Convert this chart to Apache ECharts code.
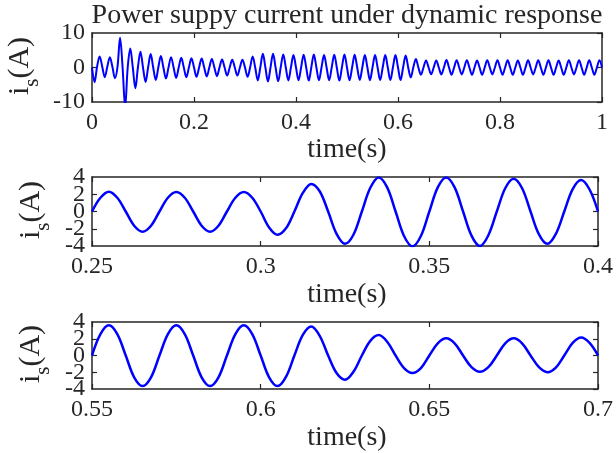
<!DOCTYPE html>
<html>
<head>
<meta charset="utf-8">
<script src="https://cdn.jsdelivr.net/npm/echarts@6/dist/echarts.min.js"></script>
<style>
  html, body { margin: 0; padding: 0; background: #ffffff; }
  #chart { width: 616px; height: 453px; }
</style>
</head>
<body>
<div id="chart"></div>
<script>
// Supply current i_s (A) over the whole 1 s run, one sample every 5 ms
const fullStart = 0;
const fullStep = 0.005;
const fullCurrent = [
  0, -4.3, 0.3, 3.2, 0.3, -2.8, 0.2, 3.0, 0.2, -3.1,
  0.2, 8.6, 0, -11.5, 0, 5.5, 0, -6.0, 0, 4.6,
  0, -4.2, 0, 3.9, 0, -3.6, 0, 3.3, 0, -3.2,
  0, 3.0, 0, -3.0, 0, 2.8, 0, -2.8, 0, 2.7,
  0, -2.7, 0, 2.6, 0, -2.6, 0, 2.5, 0, -2.5,
  0, 2.3, 0, -2.35, 0, 2.25, 0, -2.35, 0, 2.25,
  0, -2.7, 0, 3.2, 0, -3.75, 0, 3.95, 0, -4.05,
  0, 3.95, 0, -4.0, 0, 3.8, 0, -3.75, 0, 3.65,
  0, -3.7, 0, 3.7, 0, -3.8, 0, 3.8, 0, -3.7,
  0, 3.6, 0, -3.7, 0, 3.7, 0, -3.8, 0, 3.8,
  0, -3.7, 0, 3.7, 0, -3.6, 0, 3.6, 0, -3.7,
  0, 3.6, 0, -3.65, 0, 3.6, 0, -3.65, 0, 3.6,
  0, -3.65, 0, 3.45, 0, -2.9, 0, 2.45, 0, -2.1,
  0, 2.05, 0, -1.95, 0, 2.05, 0, -2.0, 0, 2.15,
  0, -2.1, 0, 2.1, 0, -2.0, 0, 2.1, 0, -2.1,
  0, 2.0, 0, -2.1, 0, 2.1, 0, -2.0, 0, 2.1,
  0, -2.1, 0, 2.1, 0, -2.1, 0, 2.0, 0, -2.1,
  0, 2.1, 0, -2.0, 0, 2.1, 0, -2.1, 0, 2.1,
  0, -2.1, 0, 2.0, 0, -2.1, 0, 2.1, 0, -2.0,
  0, 2.1, 0, -2.1, 0, 2.1, 0, -2.1, 0, 2.1,
  0
];

// Close-up 0.25 s .. 0.40 s, one sample every 2.5 ms
const midStart = 0.25;
const midStep = 0.0025;
const midCurrent = [
  0, 1.6, 2.3, 1.6,   0, -1.65, -2.35, -1.65,
  0, 1.6, 2.25, 1.6,  0, -1.65, -2.35, -1.65,
  0, 1.6, 2.25, 1.6,  0, -1.85, -2.7, -1.95,
  0, 2.15, 3.2, 2.35, 0, -2.6, -3.75, -2.7,
  0, 2.75, 3.95, 2.8, 0, -2.85, -4.05, -2.85,
  0, 2.8, 3.95, 2.8,  0, -2.8, -4.0, -2.75,
  0, 2.7, 3.8, 2.7,   0, -2.65, -3.75, -2.6,
  0, 2.6, 3.65, 2.55,
  0
];

// Close-up 0.55 s .. 0.70 s, one sample every 2.5 ms
const lowStart = 0.55;
const lowStep = 0.0025;
const lowCurrent = [
  0, 2.55, 3.6, 2.55,  0, -2.6, -3.65, -2.6,
  0, 2.55, 3.6, 2.55,  0, -2.6, -3.65, -2.6,
  0, 2.55, 3.6, 2.55,  0, -2.6, -3.65, -2.55,
  0, 2.45, 3.45, 2.35, 0, -2.1, -2.9, -1.95,
  0, 1.75, 2.45, 1.65, 0, -1.5, -2.1, -1.5,
  0, 1.45, 2.05, 1.45, 0, -1.4, -1.95, -1.4,
  0, 1.45, 2.05, 1.45, 0, -1.4, -2.0, -1.45,
  0, 1.5, 2.15, 1.5,
  0
];

// Axis ranges and tick spacing for the three panels: [min, max, interval]
const fullX = [0, 1, 0.2];
const fullY = [-10, 10, 10];
const midX = [0.25, 0.4, 0.05];
const midY = [-4, 4, 2];
const lowX = [0.55, 0.7, 0.05];
const lowY = [-4, 4, 2];

const titleText = 'Power suppy current under dynamic response';
const xName = 'time(s)';

const SERIF = '"Liberation Serif", "Times New Roman", serif';
const AXIS_COLOR = '#262626';
const TEXT_COLOR = '#262626';
const LINE_COLOR = '#0000ff';

function toPairs(start, step, values) {
  return values.map((v, i) => [+(start + i * step).toFixed(5), v]);
}

const grids = [
  { left: 92, top: 33, width: 510, height: 69 },
  { left: 92, top: 177, width: 511, height: 69 },
  { left: 92, top: 322, width: 511, height: 67 }
];

const xAxes = [];
const yAxes = [];

function addAxes(gridIndex, xr, yr) {
  const line = { show: true, onZero: false, lineStyle: { color: AXIS_COLOR, width: 1.5 } };
  const tick = { show: true, inside: true, length: 5, lineStyle: { color: AXIS_COLOR, width: 1.2 } };
  const font = { color: TEXT_COLOR, fontFamily: SERIF, fontSize: 24, hideOverlap: false };
  const xBase = { type: 'value', gridIndex, min: xr[0], max: xr[1], interval: xr[2],
    axisLine: line, axisTick: tick, splitLine: { show: false } };
  const yBase = { type: 'value', gridIndex, min: yr[0], max: yr[1], interval: yr[2],
    axisLine: line, axisTick: tick, splitLine: { show: false } };
  xAxes.push(Object.assign({}, xBase, { position: 'bottom',
    axisLabel: Object.assign({ margin: 9, showMinLabel: true, showMaxLabel: true }, font) }));
  xAxes.push(Object.assign({}, xBase, { position: 'top', axisLabel: { show: false } }));
  // left axis carrying the series: inner tick values
  yAxes.push(Object.assign({}, yBase, { position: 'left',
    axisLabel: Object.assign({ margin: 7, showMinLabel: false, showMaxLabel: false }, font) }));
  yAxes.push(Object.assign({}, yBase, { position: 'right', axisLabel: { show: false } }));
  // companion left axis for the end values, so closely stacked labels all stay visible
  yAxes.push({ type: 'value', gridIndex, position: 'left', min: yr[0], max: yr[1], interval: yr[1] - yr[0],
    axisLine: { show: false }, axisTick: { show: false }, splitLine: { show: false },
    axisLabel: Object.assign({ margin: 7, showMinLabel: true, showMaxLabel: true }, font) });
}

addAxes(0, fullX, fullY);
addAxes(1, midX, midY);
addAxes(2, lowX, lowY);

function lineSeries(gridIndex, data, width) {
  return {
    type: 'line',
    xAxisIndex: gridIndex * 2,
    yAxisIndex: gridIndex * 3,
    data,
    smooth: 0.35,
    showSymbol: false,
    symbol: 'none',
    clip: true,
    animation: false,
    lineStyle: { color: LINE_COLOR, width }
  };
}

// Rotated "i_s(A)" label with a subscript s
function yLabel(cx, cy, size) {
  const sub = Math.round(size * 0.7);
  const wI = size * 0.278;
  const wS = sub * 0.389;
  const wA = size * 1.388;
  const start = -(wI + wS + wA) / 2;
  const base = { fill: TEXT_COLOR, fontFamily: SERIF, align: 'left', verticalAlign: 'middle' };
  return {
    type: 'group', x: cx, y: cy, rotation: Math.PI / 2,
    children: [
      { type: 'text', x: start, y: 0, style: Object.assign({ text: 'i', fontSize: size }, base) },
      { type: 'text', x: start + wI, y: size * 0.42, style: Object.assign({ text: 's', fontSize: sub }, base) },
      { type: 'text', x: start + wI + wS, y: 0, style: Object.assign({ text: '(A)', fontSize: size }, base) }
    ]
  };
}

function centeredText(text, x, y, size) {
  return { type: 'text', x, y, style: { text, fill: TEXT_COLOR, fontFamily: SERIF, fontSize: size, align: 'center', verticalAlign: 'middle' } };
}

const chart = echarts.init(document.getElementById('chart'), null, { renderer: 'canvas' });
chart.setOption({
  backgroundColor: '#ffffff',
  animation: false,
  grid: grids,
  xAxis: xAxes,
  yAxis: yAxes,
  series: [
    lineSeries(0, toPairs(fullStart, fullStep, fullCurrent), 2),
    lineSeries(1, toPairs(midStart, midStep, midCurrent), 2.5),
    lineSeries(2, toPairs(lowStart, lowStep, lowCurrent), 2.5)
  ],
  graphic: [
    centeredText(titleText, 347, 16, 28),
    centeredText(xName, 347, 150, 28),
    centeredText(xName, 347, 295, 28),
    centeredText(xName, 347, 438, 28),
    yLabel(20, 66, 30),
    yLabel(31, 210, 30),
    yLabel(31, 354, 30)
  ]
});
</script>
</body>
</html>
